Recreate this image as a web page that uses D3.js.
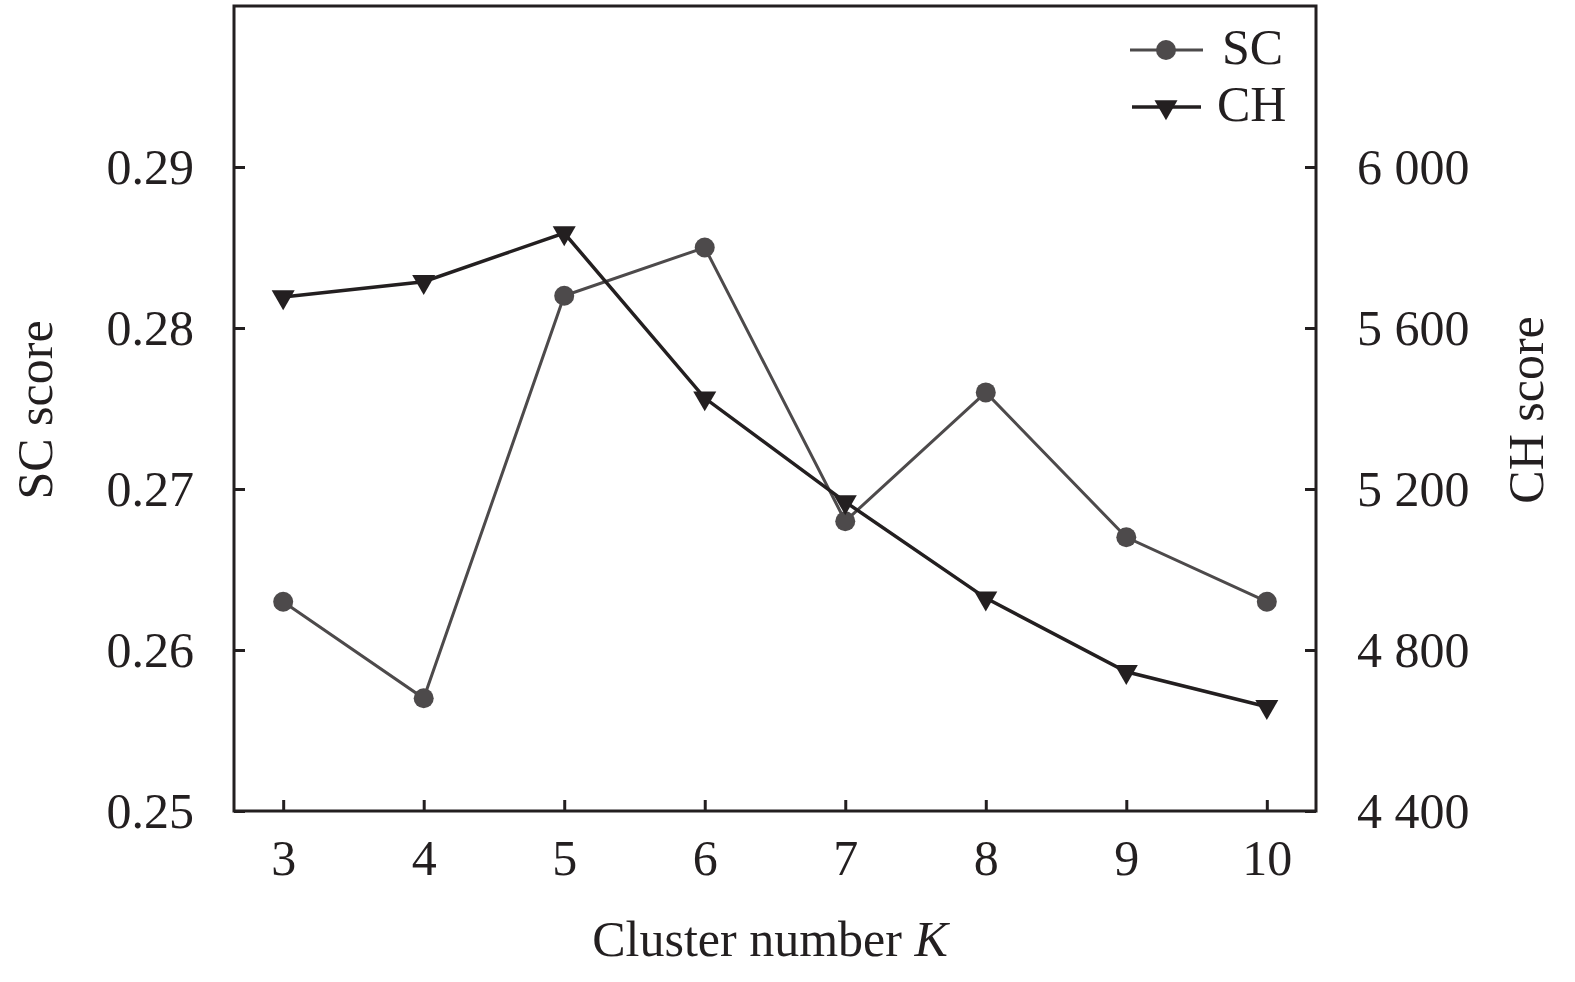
<!DOCTYPE html>
<html><head><meta charset="utf-8">
<script src="https://cdn.jsdelivr.net/npm/d3@7"></script>
<style>html,body{margin:0;padding:0;background:#fff;}svg{display:block;}</style>
</head><body><svg id="c" width="1575" height="982"></svg>
<script>
const kValues = [3, 4, 5, 6, 7, 8, 9, 10];
const scValues = [0.263, 0.257, 0.282, 0.285, 0.268, 0.276, 0.267, 0.263];
const chValues = [5677, 5715, 5836, 5426, 5168, 4929, 4746, 4659];
const scTicks = [0.25, 0.26, 0.27, 0.28, 0.29];
const chTicks = [4400, 4800, 5200, 5600, 6000];
const seriesNames = ["SC", "CH"];

const svg = d3.select("#c");
const L = 234, R = 1316, T = 6, B = 811;
const font = "'Liberation Serif','Times New Roman',serif";
const scColor = "#4d4a4b", chColor = "#231f20";

const x = d3.scaleLinear().domain([2.65, 10.35]).range([L, R]);
const yL = d3.scaleLinear().domain([0.25, 0.30]).range([B, T]);
const yR = d3.scaleLinear().domain([4400, 6400]).range([B, T]);
const loc = d3.formatLocale({decimal: ".", thousands: "\u2009", grouping: [3], currency: ["", ""]});
const fmtR = d => loc.format(",")(d).replace("\u2009", " ");

// frame
svg.append("rect").attr("x", L).attr("y", T).attr("width", R - L).attr("height", B - T)
  .attr("fill", "none").attr("stroke", chColor).attr("stroke-width", 3);

function styleAxis(g) {
  g.select(".domain").remove();
  g.selectAll(".tick line").attr("stroke", chColor).attr("stroke-width", 3);
  g.selectAll(".tick text").attr("font-family", font).attr("font-size", 50).attr("fill", chColor);
}
svg.append("g").attr("transform", `translate(0,${B})`)
  .call(d3.axisBottom(x).tickValues(kValues).tickSize(-11).tickPadding(28).tickFormat(d3.format("d")))
  .call(styleAxis);
svg.append("g").attr("transform", `translate(${L},0)`)
  .call(d3.axisLeft(yL).tickValues(scTicks).tickSize(-11).tickPadding(40).tickFormat(d3.format(".2f")))
  .call(styleAxis);
svg.append("g").attr("transform", `translate(${R},0)`)
  .call(d3.axisRight(yR).tickValues(chTicks).tickSize(-11).tickPadding(41).tickFormat(fmtR))
  .call(styleAxis);

// titles
svg.append("text").attr("x", 770).attr("y", 956).attr("text-anchor", "middle")
  .attr("font-family", font).attr("font-size", 50).attr("fill", chColor)
  .text("Cluster number ").append("tspan").attr("font-style", "italic").text("K");
svg.append("text").attr("transform", "translate(52,410) rotate(-90)").attr("text-anchor", "middle")
  .attr("font-family", font).attr("font-size", 50).attr("fill", chColor).text("SC score");
svg.append("text").attr("transform", "translate(1543,410) rotate(-90)").attr("text-anchor", "middle")
  .attr("font-family", font).attr("font-size", 50).attr("fill", chColor).text("CH score");

// SC series
const scLine = d3.line().x((d, i) => x(kValues[i])).y(d => yL(d));
svg.append("path").datum(scValues).attr("d", scLine).attr("fill", "none")
  .attr("stroke", scColor).attr("stroke-width", 3);
svg.append("g").selectAll("circle").data(scValues).join("circle")
  .attr("cx", (d, i) => x(kValues[i])).attr("cy", d => yL(d)).attr("r", 10).attr("fill", scColor);

// CH series
const chLine = d3.line().x((d, i) => x(kValues[i])).y(d => yR(d));
svg.append("path").datum(chValues).attr("d", chLine).attr("fill", "none")
  .attr("stroke", chColor).attr("stroke-width", 3.5);
const tri = d3.symbol().type(d3.symbolTriangle).size(230);
svg.append("g").selectAll("path").data(chValues).join("path")
  .attr("d", tri).attr("fill", chColor)
  .attr("transform", (d, i) => `translate(${x(kValues[i])},${yR(d)}) rotate(180)`);

// legend
const lg = svg.append("g");
lg.append("line").attr("x1", 1130).attr("x2", 1203).attr("y1", 50).attr("y2", 50)
  .attr("stroke", scColor).attr("stroke-width", 3);
lg.append("circle").attr("cx", 1166).attr("cy", 50).attr("r", 10).attr("fill", scColor);
lg.append("text").attr("x", 1222).attr("y", 64).attr("font-family", font).attr("font-size", 50)
  .attr("fill", chColor).text(seriesNames[0]);
lg.append("line").attr("x1", 1132).attr("x2", 1201).attr("y1", 107).attr("y2", 107)
  .attr("stroke", chColor).attr("stroke-width", 3.5);
lg.append("path").attr("d", tri).attr("fill", chColor).attr("transform", "translate(1166,107) rotate(180)");
lg.append("text").attr("x", 1217).attr("y", 121).attr("font-family", font).attr("font-size", 50)
  .attr("fill", chColor).text(seriesNames[1]);
</script></body></html>
